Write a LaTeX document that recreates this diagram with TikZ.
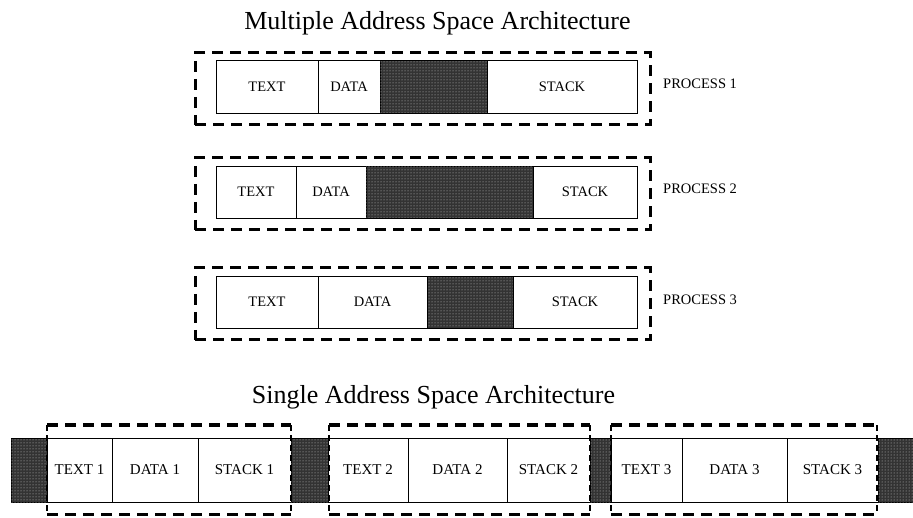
\documentclass[tikz,border=0pt]{standalone}
\usepackage{fontspec}
\setmainfont{Liberation Serif}
\usetikzlibrary{patterns}

% one memory segment: style, name, left, right, top, bottom, label
\newcommand\memcell[7]{%
  \node[#1, minimum width={(#4)-(#3)}, minimum height={(#6)-(#5)}] (#2)
    at ({((#3)+(#4))/2},{((#5)+(#6))/2}) {#7};}

\tikzset{
  seg/.style={draw=black, line width=0.8pt, fill=white, inner sep=0pt, outer sep=0pt,
    font=\fontsize{14.5}{16}\selectfont},
  seglow/.style={seg, font=\fontsize{15}{17}\selectfont},
  unused/.style={draw=black, line width=0.8pt, inner sep=0pt, outer sep=0pt,
    fill=black!80, postaction={pattern=dots, pattern color=white!80!black}},
  procframe/.style={draw=black, line width=3pt, dash pattern=on 11pt off 7pt,
    inner sep=0pt, outer sep=0pt},
  spanframe/.style={inner sep=0pt, outer sep=0pt},
  thickdash/.style={draw=black, line width=3pt, dash pattern=on 11pt off 7pt},
  thindash/.style={draw=black, line width=1.1pt, dash pattern=on 6pt off 4pt},
  plabel/.style={anchor=west, inner sep=0pt, font=\fontsize{14.5}{16}\selectfont},
  heading/.style={anchor=base, inner sep=0pt, font=\fontsize{26}{30}\selectfont},
}

\begin{document}
\begin{tikzpicture}[x=1pt, y=-1pt]
\fill[white] (0,0) rectangle (913,518);
\useasboundingbox (0,0) rectangle (913,518);

% ---------- multiple address spaces ----------
\node[heading] (title1) at (437.5,29.5) {Multiple Address Space Architecture};

% process 1
\memcell{seg}{p1text}{216}{318}{60}{113}{TEXT}
\memcell{seg}{p1data}{318}{380}{60}{113}{DATA}
\memcell{unused}{p1free}{380}{487}{60}{113}{}
\memcell{seg}{p1stack}{487}{637}{60}{113}{STACK}
\memcell{procframe}{p1frame}{195}{650}{53}{125}{}
\node[plabel] (p1label) at (663,84) {PROCESS 1};

% process 2
\memcell{seg}{p2text}{216}{296}{166}{218}{TEXT}
\memcell{seg}{p2data}{296}{366}{166}{218}{DATA}
\memcell{unused}{p2free}{366}{533}{166}{218}{}
\memcell{seg}{p2stack}{533}{637}{166}{218}{STACK}
\memcell{procframe}{p2frame}{195}{650}{158}{230}{}
\node[plabel] (p2label) at (663,189) {PROCESS 2};

% process 3
\memcell{seg}{p3text}{216}{318}{276}{328}{TEXT}
\memcell{seg}{p3data}{318}{427}{276}{328}{DATA}
\memcell{unused}{p3free}{427}{513}{276}{328}{}
\memcell{seg}{p3stack}{513}{637}{276}{328}{STACK}
\memcell{procframe}{p3frame}{195}{650}{268}{340}{}
\node[plabel] (p3label) at (663,300) {PROCESS 3};

% ---------- single address space ----------
\node[heading] (title2) at (433.5,403) {Single Address Space Architecture};

\memcell{unused}{s0free}{11}{47}{438}{502}{}
\memcell{seglow}{s1text}{47}{112}{438}{502}{TEXT 1}
\memcell{seglow}{s1data}{112}{198}{438}{502}{DATA 1}
\memcell{seglow}{s1stack}{198}{291}{438}{502}{STACK 1}
\memcell{unused}{s1free}{291}{328}{438}{502}{}
\memcell{seglow}{s2text}{328}{408}{438}{502}{TEXT 2}
\memcell{seglow}{s2data}{408}{507}{438}{502}{DATA 2}
\memcell{seglow}{s2stack}{507}{590}{438}{502}{STACK 2}
\memcell{unused}{s2free}{590}{611}{438}{502}{}
\memcell{seglow}{s3text}{611}{682}{438}{502}{TEXT 3}
\memcell{seglow}{s3data}{682}{787}{438}{502}{DATA 3}
\memcell{seglow}{s3stack}{787}{878}{438}{502}{STACK 3}
\memcell{unused}{s3free}{878}{914}{438}{502}{}

% process boundaries inside the shared space
\memcell{spanframe}{g1}{47}{291}{425}{514}{}
\memcell{spanframe}{g2}{329}{590}{425}{514}{}
\memcell{spanframe}{g3}{611}{877}{425}{514}{}
\foreach \g in {g1,g2,g3}{
  \draw[thickdash] (\g.north west) -- (\g.north east);
  \draw[thickdash] (\g.south west) -- (\g.south east);
  \draw[thindash] (\g.north west) -- (\g.south west);
  \draw[thindash] (\g.north east) -- (\g.south east);
}
\end{tikzpicture}
\end{document}
